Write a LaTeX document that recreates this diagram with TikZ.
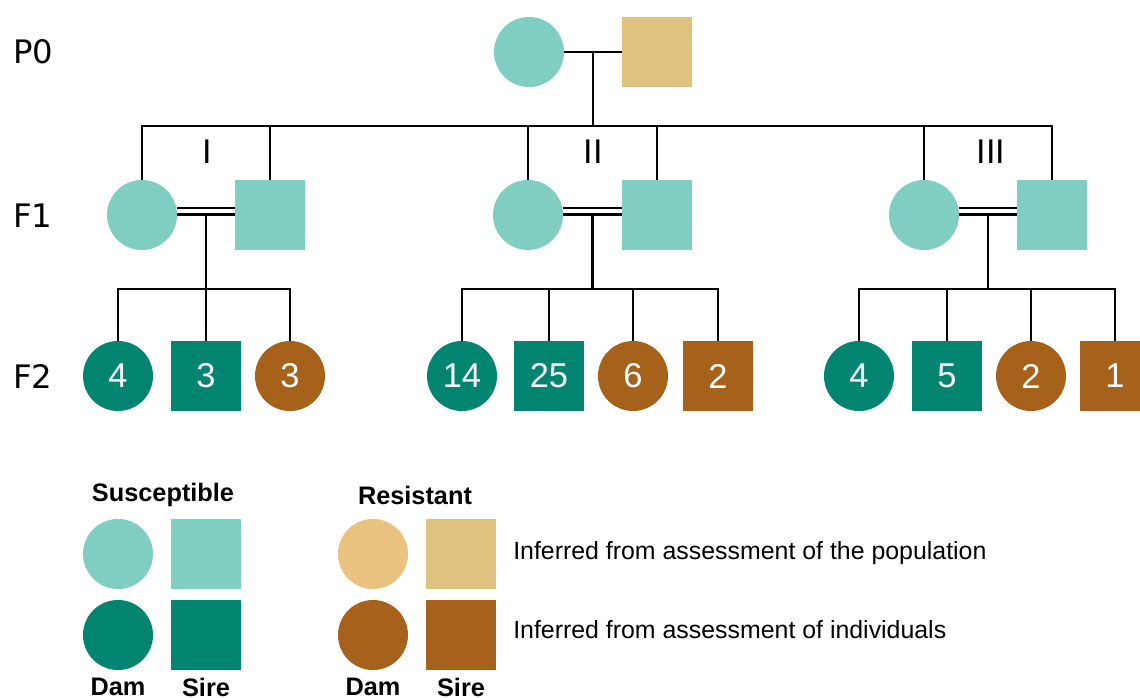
\documentclass[tikz,border=0pt]{standalone}
\usepackage{fontspec}
\setmainfont{Liberation Sans}
\newfontfamily\genfont{DejaVu Sans}
\usetikzlibrary{positioning}
\definecolor{tealL}{HTML}{80CDC1}
\definecolor{tealD}{HTML}{018571}
\definecolor{tanL}{HTML}{DFC27D}
\definecolor{tanC}{HTML}{E8C27E}
\definecolor{brownD}{HTML}{A6611A}
\tikzset{
	ind/.style={minimum size=1.75cm, inner sep=0pt, text=white, font=\fontsize{24.5}{28}\selectfont},
	dam/.style={ind, circle, fill=#1},
	sire/.style={ind, rectangle, fill=#1},
	link/.style={line width=1.9pt},
	mate/.style={double, line width=1.5pt, double distance=3.4pt},
	gen/.style={inner sep=0pt, font=\genfont\fontsize{23}{27}\selectfont},
	keyhead/.style={inner sep=0pt, font=\bfseries\fontsize{18}{21}\selectfont},
	keytext/.style={inner sep=0pt, anchor=west, font=\fontsize{17.7}{21}\selectfont}
}
\newcommand{\Dam}[3][]{\node[dam=#1] (#2) at #3 {};}
\newcommand{\Sire}[3][]{\node[sire=#1] (#2) at #3 {};}

\begin{document}
\begin{tikzpicture}[x=0.025cm, y=-0.025cm]
\useasboundingbox (0,0) rectangle (1140,698);

	\node[gen, anchor=west] (P0) at (13,52) {P0};
	\node[gen, anchor=west] (F1) at (13,216) {F1};
	\node[gen, anchor=west] (F2) at (13,376) {F2};

	\Dam[tealL]{PD}{(529,52)}
	\Sire[tanL]{PS}{(657,52)}

	\Dam[tealL]{ID}{(142,215)}
	\Sire[tealL]{IS}{(270,215)}
	\Dam[tealL]{IID}{(528,215)}
	\Sire[tealL]{IIS}{(657,215)}
	\Dam[tealL]{IIID}{(924,215)}
	\Sire[tealL]{IIIS}{(1052,215)}

	\node[gen] (nI) at (207,152) {I};
	\node[gen] (nII) at (593,152) {II};
	\node[gen] (nIII) at (991,152) {III};

	\node[dam=tealD] (Ia) at (118,376) {4};
	\node[sire=tealD] (Ib) at (206,376) {3};
	\node[dam=brownD] (Ic) at (290,376) {3};

	\node[dam=tealD] (IIa) at (462,376) {14};
	\node[sire=tealD] (IIb) at (549,376) {25};
	\node[dam=brownD] (IIc) at (633,376) {6};
	\node[sire=brownD] (IId) at (718,376) {2};

	\node[dam=tealD] (IIIa) at (859,376) {4};
	\node[sire=tealD] (IIIb) at (947,376) {5};
	\node[dam=brownD] (IIIc) at (1031,376) {2};
	\node[sire=brownD] (IIId) at (1115,376) {1};

	\coordinate (top) at (0,126);
	\coordinate (sib) at (0,289);

	\draw[link] (PD) -- (PS) coordinate[midway] (mP);
	\draw[link] (mP) -- (mP |- top);
	\draw[link] (ID.north) |- (mP |- top) -| (IIIS.north);
	\draw[link] (IS.north) -- (IS.north |- top);
	\draw[link] (IID.north) -- (IID.north |- top);
	\draw[link] (IIS.north) -- (IIS.north |- top);
	\draw[link] (IIID.north) -- (IIID.north |- top);

	\draw[mate] ([yshift=1mm]ID.east) -- ([yshift=1mm]IS.west);
	\draw[mate] ([yshift=1mm]IID.east) -- ([yshift=1mm]IIS.west);
	\draw[mate] ([yshift=1mm]IIID.east) -- ([yshift=1mm]IIIS.west);
	\path (ID) -- (IS) coordinate[midway] (mI);
	\path (IID) -- (IIS) coordinate[midway] (mII);
	\path (IIID) -- (IIIS) coordinate[midway] (mIII);

	\draw[link] (mI) -- (mI |- sib);
	\draw[link] (Ia.north) |- (mI |- sib) -| (Ic.north);
	\draw[link] (Ib.north) -- (Ib.north |- sib);

	\draw[link] (mII) -- (mII |- sib);
	\draw[link] (IIa.north) |- (mII |- sib) -| (IId.north);
	\draw[link] (IIb.north) -- (IIb.north |- sib);
	\draw[link] (IIc.north) -- (IIc.north |- sib);

	\draw[link] (mIII) -- (mIII |- sib);
	\draw[link] (IIIa.north) |- (mIII |- sib) -| (IIId.north);
	\draw[link] (IIIb.north) -- (IIIb.north |- sib);
	\draw[link] (IIIc.north) -- (IIIc.north |- sib);

	\Dam[tealL]{kSL}{(118,554)}
	\Sire[tealL]{kSR}{(206,554)}
	\Dam[tealD]{kSLd}{(118,635)}
	\Sire[tealD]{kSRd}{(206,635)}
	\Dam[tanC]{kRL}{(373,554)}
	\Sire[tanL]{kRR}{(461,554)}
	\Dam[brownD]{kRLd}{(373,635)}
	\Sire[brownD]{kRRd}{(461,635)}

	\node[keyhead] (hS) at (163,495) {Susceptible};
	\node[keyhead] (hR) at (415,495) {Resistant};
	\node[keyhead, below=0.2cm of kSLd] (dS) {Dam};
	\node[keyhead, below=0.2cm of kSRd] (sS) {Sire};
	\node[keyhead, below=0.2cm of kRLd] (dR) {Dam};
	\node[keyhead, below=0.2cm of kRRd] (sR) {Sire};

	\node[keytext] (pop) at (513,553) {Inferred from assessment of the population};
	\node[keytext] (indv) at (513,630) {Inferred from assessment of individuals};

\end{tikzpicture}
\end{document}
